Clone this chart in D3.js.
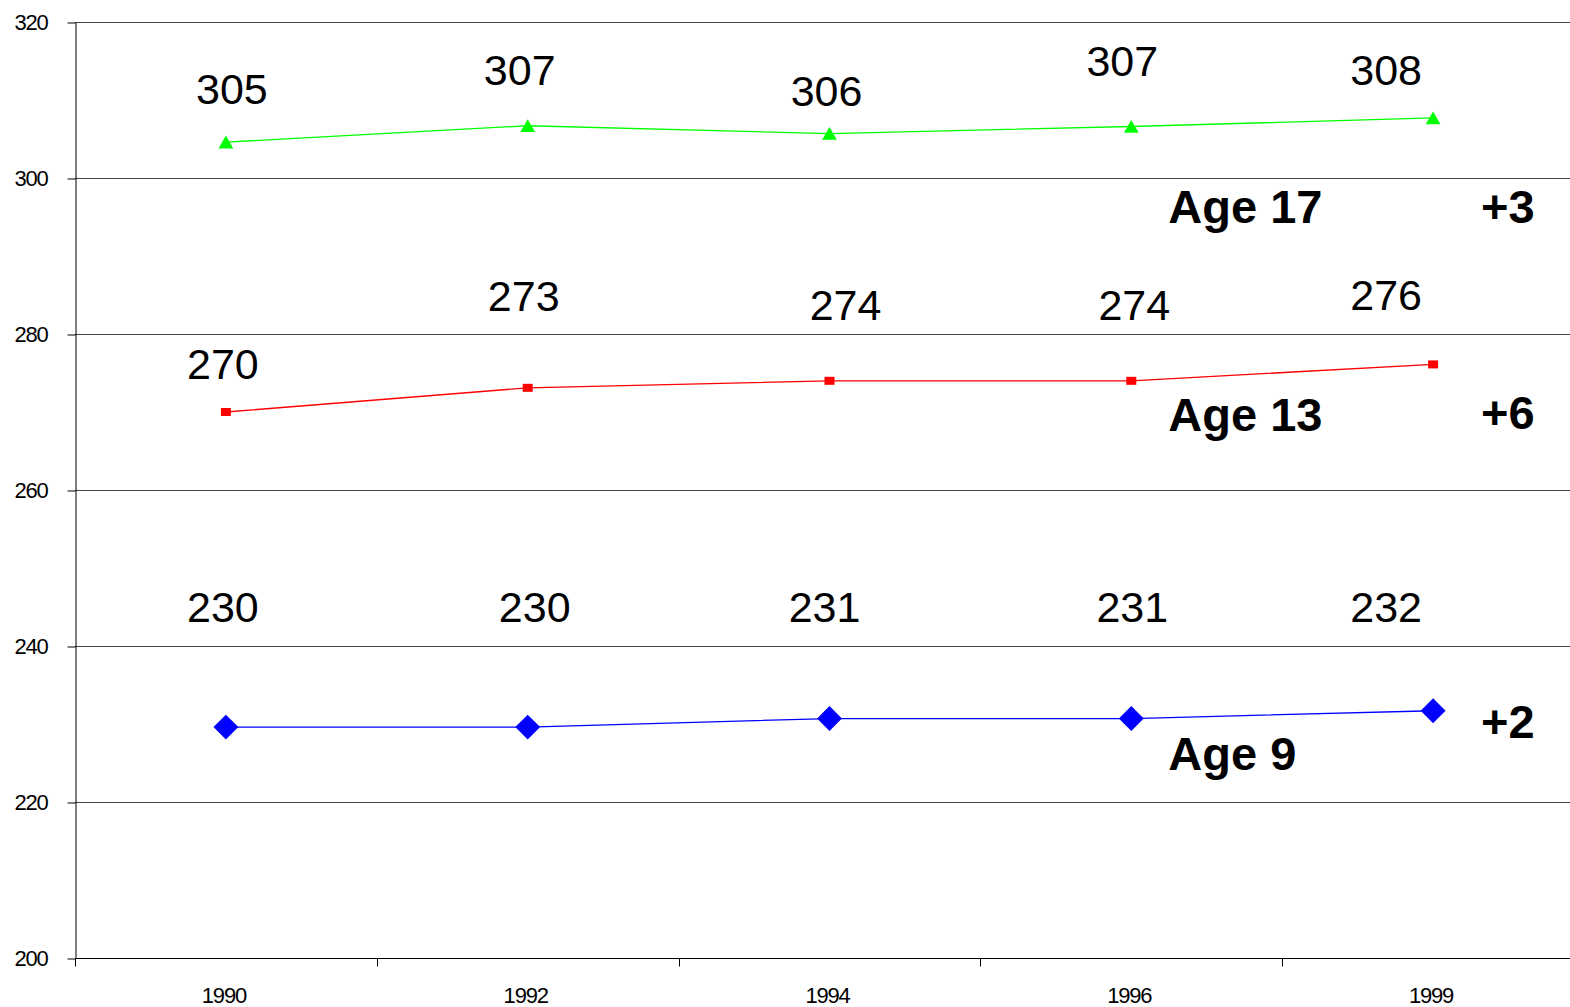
<!DOCTYPE html>
<html>
<head>
<meta charset="utf-8">
<script src="https://cdn.jsdelivr.net/npm/d3@7"></script>
<style>
  body { margin: 0; background: #fff; }
  text { font-family: Arial, "Liberation Sans", sans-serif; fill: #000; }
</style>
</head>
<body>
<div id="chart"></div>
<script>
// Data
var years = ["1990", "1992", "1994", "1996", "1999"];
var age17 = [304.6, 306.7, 305.7, 306.6, 307.7];
var age13 = [270.0, 273.1, 274.0, 274.0, 276.1];
var age9 = [229.6, 229.6, 230.7, 230.7, 231.7];
var yTicks = [200, 220, 240, 260, 280, 300, 320];
var seriesNames = ["Age 17", "Age 13", "Age 9"];
var changes = ["+3", "+6", "+2"];

// Label nudges (px) so the value labels sit where the original put them
var labelDx17 = [6, -8, -3, -9, -47], labelDy17 = [-38, -41, -28, -51, -33];
var labelDx13 = [-3, -4, 16, 3, -47], labelDy13 = [-33, -77, -61, -61, -54];
var labelDx9 = [-3, 7, -5, 1, -47], labelDy9 = [-105, -105, -97, -97, -89];

var svgWidth = 1570;
var svgHeight = 1007;
var margin = {top: 22, left: 75};
var plotRight = 1584;
var plotBottom = 958;

var svg = d3.select("#chart")
  .append("svg")
  .attr("width", svgWidth)
  .attr("height", svgHeight);

var x = d3.scaleBand()
  .domain(years)
  .range([margin.left, plotRight])
  .paddingInner(0)
  .paddingOuter(0);

var y = d3.scaleLinear()
  .domain([200, 320])
  .range([plotBottom, margin.top]);

var cx = function(i) { return x(years[i]) + x.bandwidth() / 2; };

// gridlines
svg.append("g")
  .selectAll("line")
  .data(yTicks.slice(1))
  .enter()
  .append("line")
  .attr("x1", margin.left)
  .attr("x2", svgWidth)
  .attr("y1", d => Math.round(y(d)) + 0.5)
  .attr("y2", d => Math.round(y(d)) + 0.5)
  .attr("stroke", "#444")
  .attr("stroke-width", 1);

// y axis
var leftAxis = d3.axisLeft(y)
  .tickValues(yTicks)
  .tickSize(8)
  .tickPadding(20)
  .tickSizeOuter(0);

var yAxisG = svg.append("g")
  .attr("transform", `translate(${margin.left + 0.5}, 0.5)`)
  .call(leftAxis);
yAxisG.selectAll("text")
  .style("font-size", "22px")
  .style("font-family", "Arial, 'Liberation Sans', sans-serif")
  .attr("dy", "0.3em")
  .attr("letter-spacing", "-1.2");
yAxisG.selectAll("line, path").attr("stroke", "#000");

// x axis
var bottomG = svg.append("g")
  .attr("transform", `translate(0, ${Math.round(plotBottom) + 0.5})`);
bottomG.append("line")
  .attr("x1", margin.left)
  .attr("x2", svgWidth)
  .attr("stroke", "#000");
bottomG.selectAll(".bound")
  .data(years)
  .enter()
  .append("line")
  .attr("class", "bound")
  .attr("x1", d => Math.round(x(d)) + 0.5)
  .attr("x2", d => Math.round(x(d)) + 0.5)
  .attr("y1", 0)
  .attr("y2", 8)
  .attr("stroke", "#000");
bottomG.selectAll(".xlab")
  .data(years)
  .enter()
  .append("text")
  .attr("class", "xlab")
  .attr("x", d => x(d) + x.bandwidth() / 2 - 2)
  .attr("y", 44)
  .attr("text-anchor", "middle")
  .attr("letter-spacing", "-1.2")
  .style("font-size", "22px")
  .text(d => d);

// series
var series = [
  {name: seriesNames[0], change: changes[0], values: age17, color: "#00ff00", marker: "triangle", dx: labelDx17, dy: labelDy17, nameDy: 105, changeDy: 105},
  {name: seriesNames[1], change: changes[1], values: age13, color: "#ff0000", marker: "square", dx: labelDx13, dy: labelDy13, nameDy: 67, changeDy: 65},
  {name: seriesNames[2], change: changes[2], values: age9, color: "#0000ff", marker: "diamond", dx: labelDx9, dy: labelDy9, nameDy: 59, changeDy: 27}
];

var line = d3.line()
  .x((d, i) => cx(i))
  .y(d => y(d));

series.forEach(function(s) {
  var g = svg.append("g");

  g.append("path")
    .datum(s.values)
    .attr("fill", "none")
    .attr("stroke", s.color)
    .attr("stroke-width", 1.3)
    .attr("d", line);

  var pts = g.selectAll(".pt")
    .data(s.values)
    .enter();

  if (s.marker === "triangle") {
    pts.append("path")
      .attr("d", d3.symbol().type(d3.symbolTriangle).size(95))
      .attr("transform", (d, i) => `translate(${cx(i)}, ${y(d) + 2})`)
      .attr("fill", s.color);
  } else if (s.marker === "square") {
    pts.append("rect")
      .attr("x", (d, i) => cx(i) - 5)
      .attr("y", d => y(d) - 4)
      .attr("width", 10)
      .attr("height", 8)
      .attr("fill", s.color);
  } else {
    pts.append("path")
      .attr("d", d3.symbol().type(d3.symbolSquare).size(310))
      .attr("transform", (d, i) => `translate(${cx(i)}, ${y(d)}) rotate(45)`)
      .attr("fill", s.color);
  }

  // value labels
  g.selectAll(".vlab")
    .data(s.values)
    .enter()
    .append("text")
    .attr("x", (d, i) => cx(i) + s.dx[i])
    .attr("y", (d, i) => y(d) + s.dy[i])
    .attr("text-anchor", "middle")
    .style("font-size", "43px")
    .text(d => d3.format(".0f")(d));

  // series name and change
  var last = s.values[s.values.length - 1];
  g.append("text")
    .attr("x", cx(3) + 37)
    .attr("y", y(last) + s.nameDy)
    .style("font-size", "47px")
    .style("font-weight", "bold")
    .text(s.name);
  g.append("text")
    .attr("x", cx(4) + 48)
    .attr("y", y(last) + s.changeDy)
    .style("font-size", "47px")
    .style("font-weight", "bold")
    .text(s.change);
});
</script>
</body>
</html>
